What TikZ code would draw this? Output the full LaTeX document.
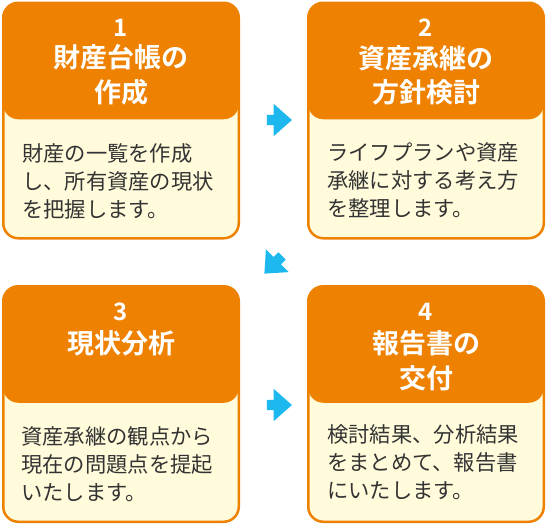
\documentclass[tikz,border=0pt]{standalone}
\usepackage{fontspec}
\newfontfamily\jp{Noto Sans CJK JP}[BoldFont={Noto Sans CJK JP Bold}]
\usetikzlibrary{shapes.arrows}
\definecolor{cardorange}{HTML}{EE8100}
\definecolor{cardcream}{HTML}{FFFBDB}
\definecolor{arrowblue}{HTML}{1DB8EE}
\definecolor{bodytext}{HTML}{333333}
\tikzset{
  card/.style={draw=cardorange, line width=2.5pt, fill=cardcream, rounded corners=15pt,
    minimum width=235.5pt, minimum height=235.5pt, inner sep=0pt,
    path picture={\fill[cardorange] (path picture bounding box.north west) rectangle ([yshift=-116.5pt]path picture bounding box.north east);}},
  numtext/.style={text=white, inner sep=0pt, font=\jp\bfseries\fontsize{24pt}{28pt}\selectfont},
  titletext/.style={text=white, inner sep=0pt, align=center, font=\jp\bfseries\fontsize{27pt}{34.5pt}\selectfont},
  bodytxt/.style={text=bodytext, inner sep=0pt, align=left, anchor=west, font=\jp\fontsize{21.3pt}{28pt}\selectfont},
  blockarrow/.style={single arrow, fill=arrowblue, draw=none, inner sep=0pt,
    text height=10pt, text depth=0pt, text width=0pt,
    minimum height=25pt, minimum width=32pt, single arrow head extend=11pt, single arrow tip angle=83}
}
\begin{document}
\begin{tikzpicture}[x=1pt,y=-1pt]
\useasboundingbox (0,0) rectangle (546,525);
% cards
\node[card] (c1) at (121,120.5) {};
\node[card] (c2) at (426,120.5) {};
\node[card] (c3) at (121,404) {};
\node[card] (c4) at (426,404) {};
% card 1
\node[numtext] (n1) at (121,28) {1};
\node[titletext] (h1) at (121,74.75) {財産台帳の\\作成};
\node[bodytxt] (b1) at (22,181) {財産の一覧を作成\\し、所有資産の現状\\を把握します。};
% card 2
\node[numtext] (n2) at (426,28) {2};
\node[titletext] (h2) at (426,75.5) {資産承継の\\方針検討};
\node[bodytxt] (b2) at (327,180) {ライフプランや資産\\承継に対する考え方\\を整理します。};
% card 3
\node[numtext] (n3) at (121,312) {3};
\node[titletext] (h3) at (121,343) {現状分析};
\node[bodytxt] (b3) at (21,464) {資産承継の観点から\\現在の問題点を提起\\いたします。};
% card 4
\node[numtext] (n4) at (426,312) {4};
\node[titletext] (h4) at (426,360.5) {報告書の\\交付};
\node[bodytxt] (b4) at (327,462) {検討結果、分析結果\\をまとめて、報告書\\にいたします。};
% arrows
\node[blockarrow] (a12) at (276.5,120) {};
\node[blockarrow, rotate=225] (a23) at (275.3,262.7) {};
\node[blockarrow] (a34) at (276.5,405) {};
\end{tikzpicture}
\end{document}
